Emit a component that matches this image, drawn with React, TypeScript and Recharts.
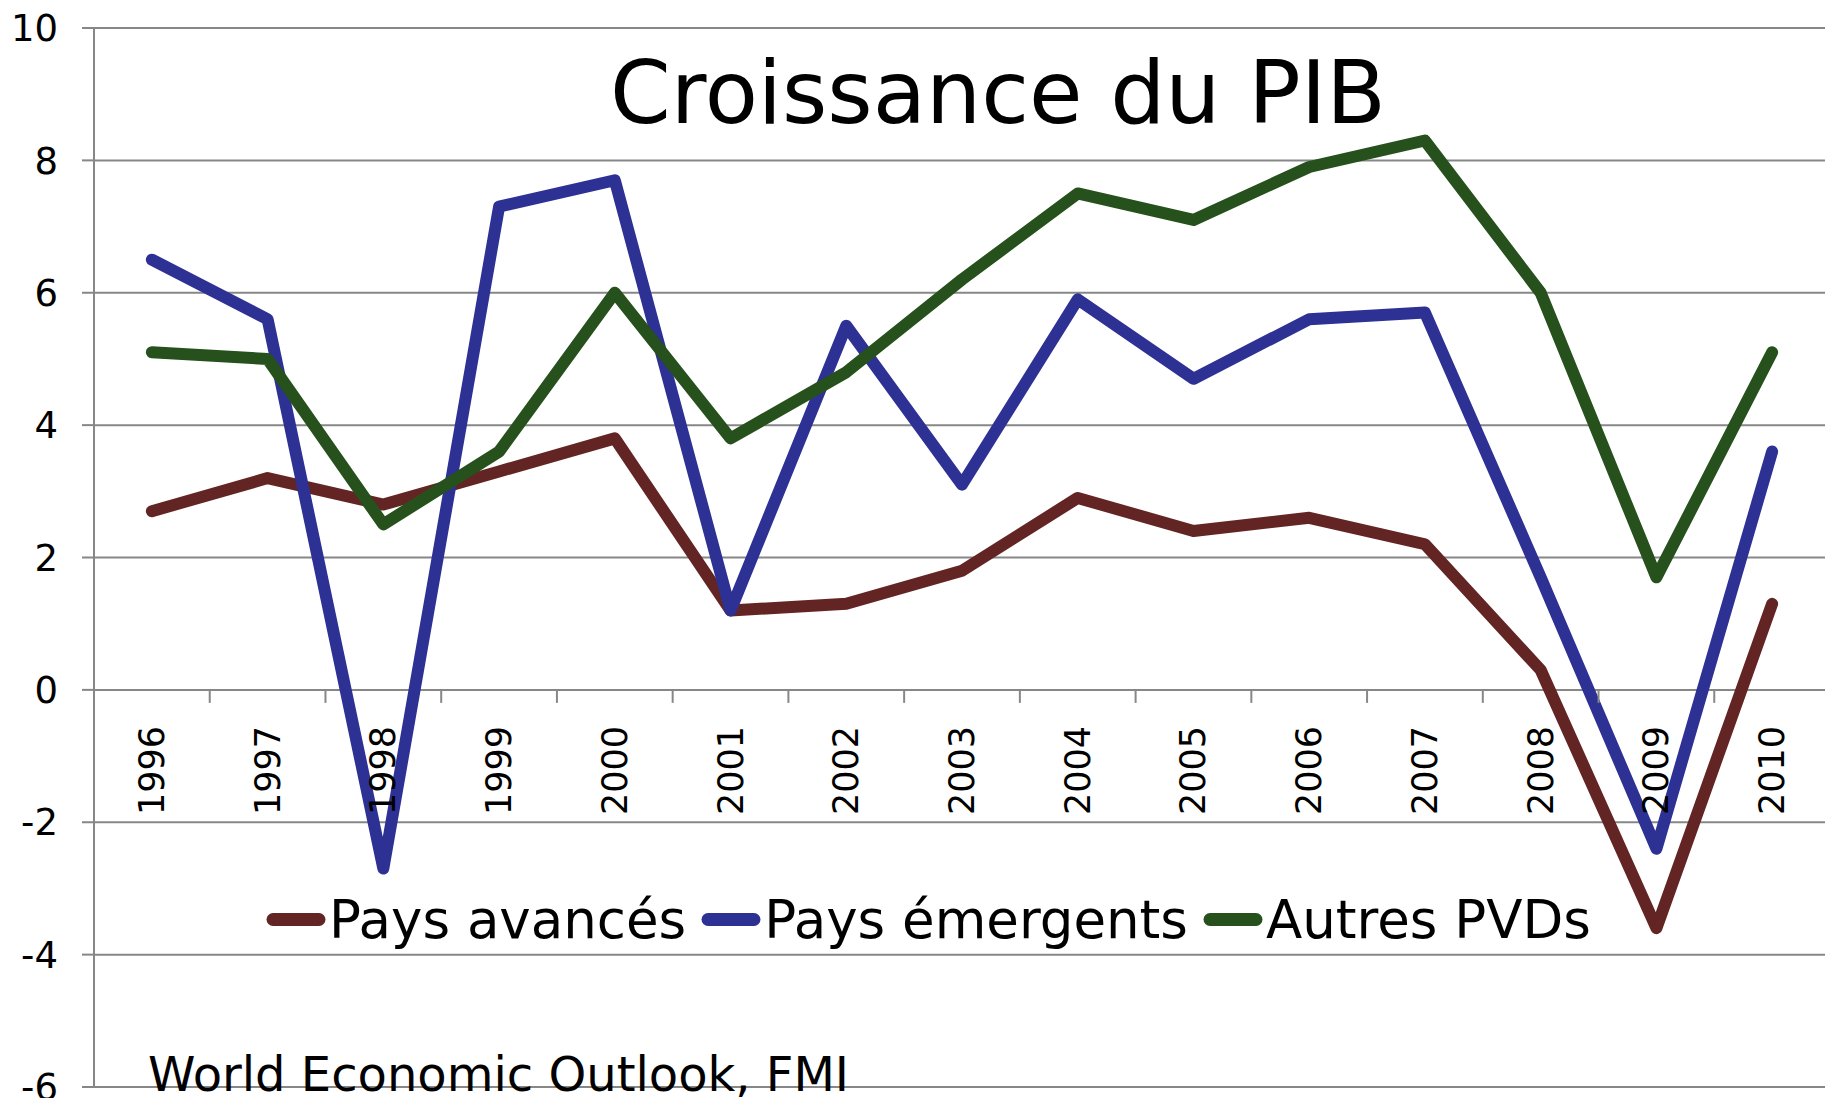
import React from 'react';
import { LineChart, Line, XAxis, YAxis, CartesianGrid, ReferenceDot, Legend } from 'recharts';

const years = [1996, 1997, 1998, 1999, 2000, 2001, 2002, 2003, 2004, 2005, 2006, 2007, 2008, 2009, 2010];
const paysAvances = [2.7, 3.2, 2.8, 3.3, 3.8, 1.2, 1.3, 1.8, 2.9, 2.4, 2.6, 2.2, 0.3, -3.6, 1.3];
const paysEmergents = [6.5, 5.6, -2.7, 7.3, 7.7, 1.2, 5.5, 3.1, 5.9, 4.7, 5.6, 5.7, 1.7, -2.4, 3.6];
const autresPVDs = [5.1, 5.0, 2.5, 3.6, 6.0, 3.8, 4.8, 6.2, 7.5, 7.1, 7.9, 8.3, 6.0, 1.7, 5.1];
const yTicks = [-6, -4, -2, 0, 2, 4, 6, 8, 10];
const seriesNames = ['Pays avancés', 'Pays émergents', 'Autres PVDs'];
const chartTitle = 'Croissance du PIB';
const sourceText = 'World Economic Outlook, FMI';

const tickBoundaries = years.slice(1).map((y) => y - 0.5);

const data = years.map((year, i) => ({
  year,
  avances: paysAvances[i],
  emergents: paysEmergents[i],
  autres: autresPVDs[i],
}));

const FONT = '"DejaVu Sans", Verdana, sans-serif';
const GRID = '#878787';
const BROWN = '#632523';
const BLUE = '#2e3194';
const GREEN = '#26501c';

const renderLegend = (props: any) => {
  const payload = [...(props.payload || [])].sort(
    (a: any, b: any) => seriesNames.indexOf(a.value) - seriesNames.indexOf(b.value)
  );
  return (
    <div
      style={{
        display: 'flex',
        alignItems: 'center',
        fontFamily: FONT,
        fontSize: 53,
        lineHeight: '53px',
        color: '#000',
        whiteSpace: 'nowrap',
      }}
    >
      {payload.map((entry: any, i: number) => (
        <div key={i} style={{ display: 'flex', alignItems: 'center', marginRight: 15 }}>
          <svg width={60} height={53} style={{ display: 'block' }}>
            <line x1={7} y1={26.5} x2={53} y2={26.5} stroke={entry.color} strokeWidth={13} strokeLinecap="round" />
          </svg>
          <span style={{ marginLeft: 3 }}>{entry.value}</span>
        </div>
      ))}
    </div>
  );
};

export default function App() {
  return (
    <div
      style={{
        position: 'absolute',
        left: 0,
        top: 0,
        width: 1825,
        height: 1098,
        overflow: 'hidden',
        background: '#fff',
      }}
    >
      <LineChart width={1830} height={1098} data={data} margin={{ top: 28, right: 0, bottom: 11, left: 0 }}>
        <CartesianGrid vertical={false} stroke={GRID} strokeWidth={2} />
        <XAxis type="number" dataKey="year" domain={[1995.5, 2010.5]} hide />
        <YAxis
          domain={[-6, 10]}
          ticks={yTicks}
          interval={0}
          width={94}
          tickSize={12}
          tickMargin={24}
          axisLine={{ stroke: GRID, strokeWidth: 2 }}
          tickLine={{ stroke: GRID, strokeWidth: 2 }}
          tick={{ fill: '#000', fontSize: 37, fontFamily: FONT }}
        />
        {tickBoundaries.map((b) => (
          <ReferenceDot
            key={'t' + b}
            x={b}
            y={0}
            r={0}
            shape={(p: any) => (
              <line x1={p.cx} y1={p.cy} x2={p.cx} y2={p.cy + 13} stroke={GRID} strokeWidth={2} />
            )}
          />
        ))}
        <Line
          type="linear"
          dataKey="avances"
          name={seriesNames[0]}
          stroke={BROWN}
          strokeWidth={12}
          strokeLinecap="round"
          strokeLinejoin="round"
          dot={false}
          activeDot={false}
          isAnimationActive={false}
        />
        <Line
          type="linear"
          dataKey="emergents"
          name={seriesNames[1]}
          stroke={BLUE}
          strokeWidth={12}
          strokeLinecap="round"
          strokeLinejoin="round"
          dot={false}
          activeDot={false}
          isAnimationActive={false}
        />
        <Line
          type="linear"
          dataKey="autres"
          name={seriesNames[2]}
          stroke={GREEN}
          strokeWidth={12}
          strokeLinecap="round"
          strokeLinejoin="round"
          dot={false}
          activeDot={false}
          isAnimationActive={false}
        />
        {years.map((yr) => (
          <ReferenceDot
            key={'l' + yr}
            x={yr}
            y={0}
            r={0}
            shape={(p: any) => (
              <text
                x={p.cx}
                y={p.cy + 36}
                transform={`rotate(-90 ${p.cx} ${p.cy + 36})`}
                textAnchor="end"
                dominantBaseline="central"
                fontFamily={FONT}
                fontSize={35}
                fill="#000"
              >
                {String(yr)}
              </text>
            )}
          />
        ))}
        <Legend
          layout="horizontal"
          verticalAlign="middle"
          align="center"
          content={renderLegend}
          wrapperStyle={{ position: 'absolute', left: 266, top: 893, width: 'auto', height: 'auto', margin: 0 }}
        />
      </LineChart>
      <div
        style={{
          position: 'absolute',
          left: 998,
          top: 50,
          transform: 'translateX(-50%)',
          fontFamily: FONT,
          fontSize: 87,
          lineHeight: '87px',
          color: '#000',
          whiteSpace: 'nowrap',
        }}
      >
        {chartTitle}
      </div>
      <div
        style={{
          position: 'absolute',
          left: 148,
          top: 1050,
          fontFamily: FONT,
          fontSize: 48,
          lineHeight: '48px',
          color: '#000',
          whiteSpace: 'nowrap',
        }}
      >
        {sourceText}
      </div>
    </div>
  );
}
